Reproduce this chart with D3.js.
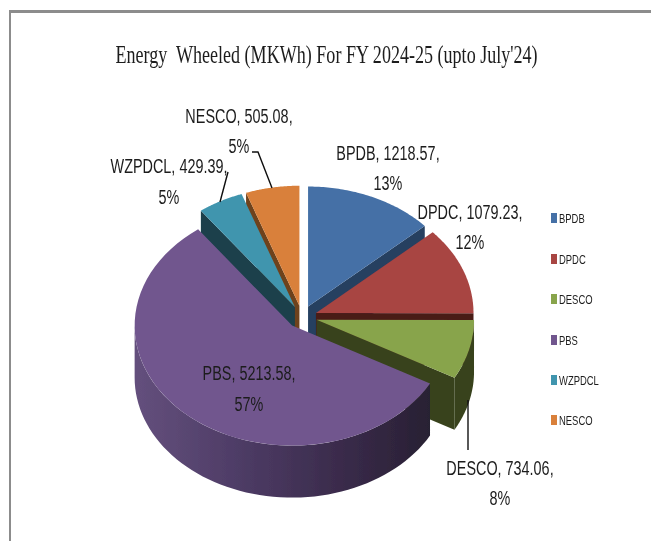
<!DOCTYPE html>
<html><head><meta charset="utf-8">
<script src="https://cdn.jsdelivr.net/npm/d3@7/dist/d3.min.js"></script>
<style>html,body{margin:0;padding:0;background:#fff}svg{display:block}</style>
</head><body><svg id="c" width="651" height="541"></svg>
<script>
const titleText = "Energy  Wheeled (MKWh) For FY 2024-25 (upto July'24)";
const categories = ["BPDB","DPDC","DESCO","PBS","WZPDCL","NESCO"];
const values = [1218.57,1079.23,734.06,5213.58,429.39,505.08];
const percents = ["13%","12%","8%","57%","5%","5%"];
const topColors = ["#4570a6","#a84442","#88a44c","#71578e","#4095ae","#d9803a"];
const wallColors = ["#253f60","#4a1a18","#38431c","#4a3860","#1a3f4c","#6e421b"];
const labelCenters = [[388,152,182],[470,211,241],[500,467,497],[249,372,403],[169,165,196],[239,115,145]];
const legendY = [218,259,299,340,380,420];

const SANS = "'Liberation Sans',sans-serif";
const svg = d3.select("#c");
const defs = svg.append("defs");
const grad = defs.append("linearGradient").attr("id","pbsWall").attr("gradientUnits","userSpaceOnUse")
  .attr("x1",134).attr("x2",430).attr("y1",0).attr("y2",0);
[[0,"#64507d"],[0.35,"#4e3c66"],[0.7,"#3a2b4b"],[1,"#282033"]].forEach(s=>grad.append("stop").attr("offset",s[0]).attr("stop-color",s[1]));
const blur = defs.append("filter").attr("id","soft");
blur.append("feGaussianBlur").attr("stdDeviation",0.45);

const root = svg.append("g").attr("filter","url(#soft)");
// frame
root.append("rect").attr("x",9).attr("y",10).attr("width",642).attr("height",3).attr("fill","#8c8c8c");
root.append("rect").attr("x",9).attr("y",10).attr("width",2).attr("height",531).attr("fill","#8c8c8c");

// title
function fitted(sel, txt, cx, y, size, sx, family){
  return sel.append("text").attr("transform",`translate(${cx},${y}) scale(${sx},1)`)
    .attr("text-anchor","middle").attr("font-family",family).attr("font-size",size).attr("fill","#1c1c1c")
    .attr("xml:space","preserve").style("white-space","pre").text(txt);
}
fitted(root,titleText,326.5,63,26,0.695,"'Liberation Serif',serif");

// pie
const cx=302, cy=317, rx=157.5, ry=120, depth=52, explode=15;
const TAU=Math.PI*2;
const arcs=d3.pie().sort(null).startAngle(0).endAngle(TAU)(values);
const line=d3.line();
const px=(a,r)=>Math.sin(a)*r, py=(a,r)=>-Math.cos(a)*r*(ry/rx);
arcs.forEach(d=>{const m=(d.startAngle+d.endAngle)/2; d.ox=cx+px(m,explode); d.oy=cy+py(m,explode);});
const sample=(a0,a1)=>d3.range(0,61).map(i=>a0+(a1-a0)*i/60);
const order=[5,4,0,1,2,3];
order.forEach(i=>{
  const d=arcs[i], P=(a,dz=0)=>[d.ox+px(a,rx),d.oy+py(a,rx)+dz], O=[d.ox,d.oy], Od=[d.ox,d.oy+depth];
  const g=root.append("g");
  const wall=wallColors[i];
  // radial walls facing the viewer
  if(d.endAngle>0.001&&d.endAngle<Math.PI) g.append("path").attr("d",line([O,P(d.endAngle),P(d.endAngle,depth),Od])+"Z").attr("fill",wall);
  if(d.startAngle>Math.PI&&d.startAngle<TAU) g.append("path").attr("d",line([O,P(d.startAngle),P(d.startAngle,depth),Od])+"Z").attr("fill",wall);
  // outer wall
  const a0=Math.max(d.startAngle,Math.PI/2), a1=Math.min(d.endAngle,Math.PI*1.5);
  if(a1>a0){
    const s=sample(a0,a1);
    g.append("path").attr("d",line(s.map(a=>P(a)).concat(s.slice().reverse().map(a=>P(a,depth))))+"Z")
      .attr("fill",categories[i]==="PBS"?"url(#pbsWall)":wall);
  }
  // top
  g.append("path").attr("d",line([O].concat(sample(d.startAngle,d.endAngle).map(a=>P(a))))+"Z").attr("fill",topColors[i]);
});

// leader lines
const leaderLine=d3.line();
[[[252,152],[258,152],[272,188]],[[228,172],[220,202]],[[468,400],[468,450]]].forEach(p=>{
  root.append("path").attr("d",leaderLine(p)).attr("fill","none").attr("stroke","#111").attr("stroke-width",1.4);
});

// labels
categories.forEach((c,i)=>{
  const [x,y1,y2]=labelCenters[i];
  fitted(root,`${c}, ${values[i].toFixed(2)},`,x,y1+8,21,0.686,SANS);
  fitted(root,percents[i],x,y2+8,21,0.686,SANS);
});

// legend
categories.forEach((c,i)=>{
  root.append("rect").attr("x",551).attr("y",legendY[i]-5).attr("width",6).attr("height",10).attr("fill",topColors[i]);
  root.append("text").attr("transform",`translate(559,${legendY[i]+5}) scale(0.70,1)`).attr("font-family",SANS).attr("font-size",13.5).attr("fill","#1c1c1c").text(c);
});
</script></body></html>
